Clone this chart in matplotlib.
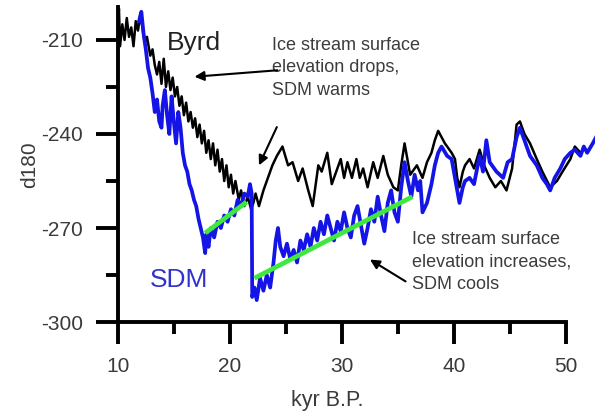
import matplotlib
matplotlib.use("Agg")
import matplotlib.pyplot as plt

plt.rcParams['font.family'] = ['Liberation Sans', 'DejaVu Sans']
plt.rcParams['axes.unicode_minus'] = False

# Byrd d18O record (kyr B.P., value)
byrd_age = [10.0, 10.1, 10.2, 10.4, 10.6, 10.8, 11.0, 11.2, 11.4, 11.6, 11.8, 12.0,
            12.2, 12.4, 12.6, 12.9, 13.1, 13.3, 13.5, 13.7, 13.9, 14.1, 14.3, 14.5,
            14.7, 14.9, 15.1, 15.3, 15.5, 15.7, 15.9, 16.1, 16.3, 16.5, 16.7, 16.9,
            17.1, 17.3, 17.5, 17.7, 17.9, 18.1, 18.3, 18.5, 18.7, 18.9, 19.1, 19.3,
            19.5, 19.7, 19.9, 20.1, 20.3, 20.5, 20.8, 21.0, 21.3, 21.6, 21.9, 22.1,
            22.3, 22.6, 23.0, 23.3, 23.8, 24.2, 24.7, 25.2, 25.6, 26.1, 26.5, 27.0,
            27.4, 27.9, 28.2, 28.7, 29.1, 29.6, 29.9, 30.2, 30.5, 30.9, 31.3, 31.6,
            31.9, 32.3, 32.8, 33.2, 33.7, 34.1, 34.6, 35.0, 35.3, 35.6, 36.1, 36.7,
            37.2, 37.6, 38.0, 38.3, 38.6, 38.9, 39.2, 39.4, 39.8, 40.1, 40.3, 40.5,
            40.8, 41.0, 41.4, 41.8, 42.3, 42.7, 43.2, 43.7, 44.2, 44.7, 45.2, 45.6,
            45.9, 46.3, 46.8, 47.4, 47.9, 48.6, 49.2, 49.7, 50.4, 50.8, 51.3]
byrd_d18o = [-206, -200, -212, -205, -210, -203, -209, -206, -212, -204, -207, -202,
             -206, -211, -209, -215, -213, -218, -221, -217, -224, -216, -225, -220,
             -226, -222, -228, -225, -231, -228, -234, -230, -236, -233, -238, -235,
             -241, -237, -243, -239, -246, -242, -248, -243, -250, -245, -252, -248,
             -255, -250, -257, -253, -259, -255, -261, -258, -263, -260, -264, -262,
             -259, -263, -258, -255, -250, -247, -244, -250, -249, -255, -251, -258,
             -263, -250, -252, -246, -256, -251, -248, -254, -249, -254, -248, -254,
             -251, -257, -249, -254, -247, -253, -257, -258, -250, -243, -253, -250,
             -254, -249, -246, -242, -239, -241, -243, -244, -246, -248, -254, -257,
             -252, -250, -248, -251, -245, -250, -254, -257, -255, -258, -251, -237,
             -236, -240, -243, -248, -252, -257, -255, -252, -248, -244, -246]

# Siple Dome (SDM) d18O record
sdm_age = [11.9, 12.1, 12.3, 12.5, 12.7, 12.9, 13.1, 13.3, 13.5, 13.7, 13.9, 14.0,
           14.2, 14.4, 14.6, 14.8, 15.0, 15.2, 15.4, 15.6, 15.8, 16.0, 16.2, 16.4,
           16.6, 16.8, 17.0, 17.2, 17.4, 17.6, 17.8, 17.9, 18.1, 18.3, 18.6, 18.9,
           19.2, 19.5, 19.8, 20.1, 20.4, 20.7, 21.0, 21.3, 21.6, 21.8, 21.95, 22.0,
           22.2, 22.4, 22.7, 23.0, 23.3, 23.6, 23.9, 24.1, 24.3, 24.5, 24.8, 25.1,
           25.4, 25.7, 26.0, 26.3, 26.6, 26.9, 27.2, 27.5, 27.8, 28.1, 28.4, 28.7,
           29.0, 29.3, 29.6, 29.9, 30.2, 30.5, 30.8, 31.1, 31.4, 31.7, 32.0, 32.3,
           32.6, 32.9, 33.2, 33.5, 33.8, 34.1, 34.4, 34.7, 35.0, 35.3, 35.6, 35.9,
           36.2, 36.5, 36.8, 37.0, 37.2, 37.6, 38.0, 38.3, 38.6, 38.9, 39.4, 39.8,
           40.1, 40.3, 40.5, 40.8, 41.0, 41.4, 41.8, 42.3, 42.6, 42.9, 43.2, 43.8,
           44.4, 44.8, 45.2, 45.6, 45.9, 46.3, 46.8, 47.4, 47.9, 48.3, 48.6, 49.0,
           49.5, 49.9, 50.4, 50.8, 51.3, 51.6, 51.9, 52.4, 52.7]
sdm_d18o = [-204, -201, -208, -213, -219, -222, -227, -233, -229, -236, -238, -231,
            -226, -234, -240, -228, -236, -243, -233, -238, -246, -250, -252, -256,
            -258, -261, -263, -267, -270, -273, -278, -272, -276, -270, -273, -268,
            -270, -266, -268, -264, -266, -261, -263, -259, -260, -256, -259, -292,
            -289, -293, -286, -290, -285, -289, -281, -274, -270, -276, -279, -275,
            -280, -277, -281, -274, -277, -272, -276, -270, -274, -268, -272, -266,
            -270, -274, -268, -271, -265, -270, -273, -266, -263, -269, -275, -270,
            -264, -268, -260, -266, -271, -262, -258, -265, -268, -257, -249, -255,
            -260, -253, -258, -255, -265, -262, -256, -250, -246, -244, -247, -248,
            -254, -258, -262, -257, -255, -254, -256, -247, -252, -242, -249, -252,
            -254, -249, -248, -241, -238, -242, -247, -250, -254, -256, -258, -254,
            -251, -248, -246, -245, -247, -244, -246, -243, -241]

# trend lines (green)
trend1_age = [17.8, 21.5]
trend1_d18o = [-271.6, -261.7]
trend2_age = [22.2, 36.3]
trend2_d18o = [-286, -260]

fig = plt.figure(figsize=(5.95, 4.15), dpi=100)
ax = fig.add_axes([0.198, 0.224, 0.802, 0.759])

ax.plot(byrd_age, byrd_d18o, color='black', lw=1.8)
ax.plot(sdm_age, sdm_d18o, color='#1414e6', lw=2.7)
ax.plot(trend1_age, trend1_d18o, color='#3fe83f', lw=3.4, solid_capstyle='butt')
ax.plot(trend2_age, trend2_d18o, color='#3fe83f', lw=3.4, solid_capstyle='butt')

ax.set_xlim(10, 52.6)
ax.set_ylim(-300, -199.5)

for s in ['top', 'right']:
    ax.spines[s].set_visible(False)
ax.spines['left'].set_linewidth(2.8)
ax.spines['bottom'].set_linewidth(2.8)
ax.spines['bottom'].set_bounds(10, 50)

ax.set_xticks([10, 20, 30, 40, 50])
ax.set_xticks([15, 25, 35, 45], minor=True)
ax.set_yticks([-300, -270, -240, -210])
ax.set_yticks([-285, -255, -225], minor=True)
ax.tick_params(which='major', length=16, width=2.8, labelsize=15,
               labelcolor='#3a3a3a', pad=9)
ax.tick_params(which='minor', length=8.5, width=2.8)

ax.set_ylabel('d180', fontsize=15, color='#3a3a3a')
ax.yaxis.set_label_coords(-0.165, 0.5)
ax.set_xlabel('kyr B.P.', fontsize=15.5, color='#3a3a3a')
ax.xaxis.set_label_coords(0.438, -0.215)

ax.text(14.4, -213.2, 'Byrd', fontsize=19, color='#222222', va='baseline')
ax.text(12.9, -288.8, 'SDM', fontsize=19, color='#3333cc', va='baseline')

note_kw = dict(fontsize=13, color='#3c3c3c', va='top', ha='left', linespacing=1.42)
ax.text(23.75, -209, 'Ice stream surface\nelevation drops,\nSDM warms', **note_kw)
ax.text(36.3, -271, 'Ice stream surface\nelevation increases,\nSDM cools', **note_kw)

arrow = dict(arrowstyle='-|>', color='black', lw=1.5, mutation_scale=14)
ax.annotate('', xy=(16.6, -221.8), xytext=(24.5, -219.6), arrowprops=arrow)
ax.annotate('', xy=(22.5, -250.8), xytext=(24.3, -237), arrowprops=arrow)
ax.annotate('', xy=(32.3, -279.6), xytext=(35.9, -287.5), arrowprops=arrow)

fig.savefig('out.png', dpi=100)
